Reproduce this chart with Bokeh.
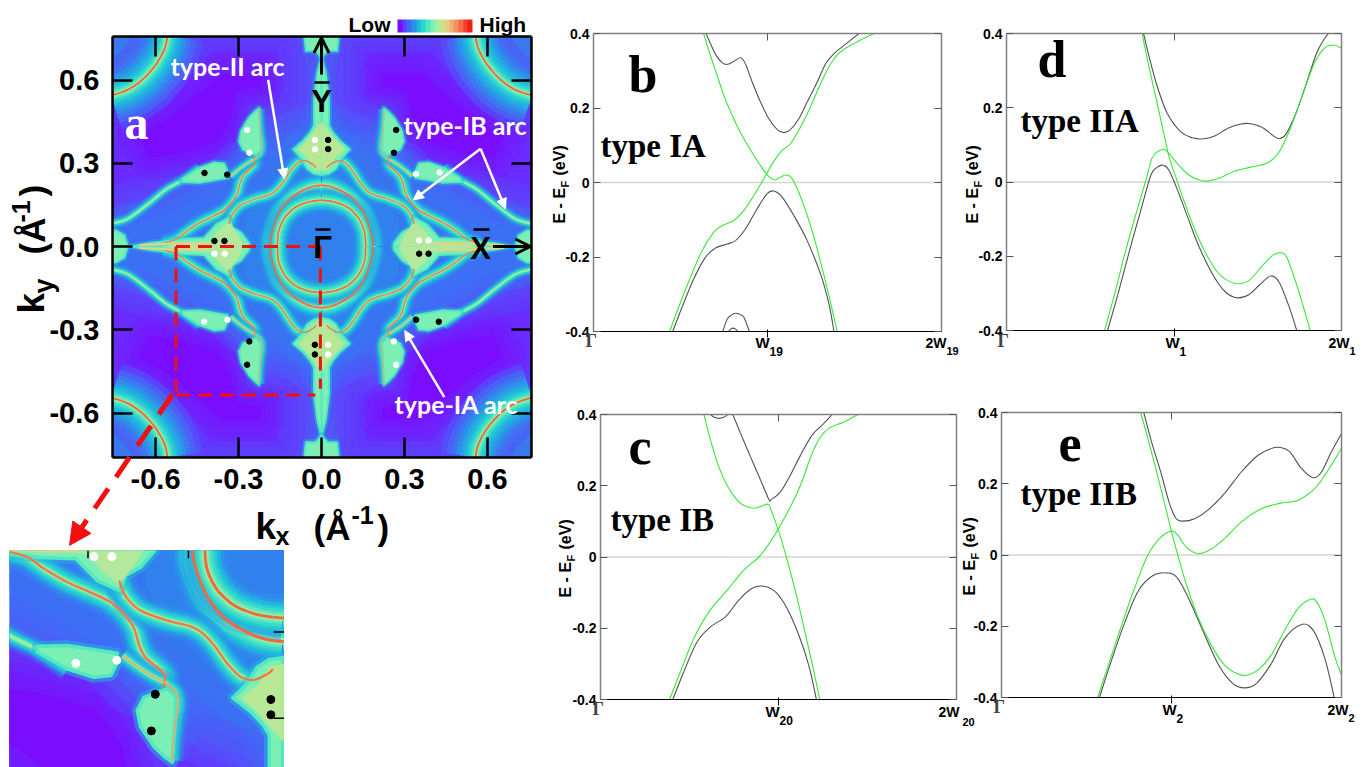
from math import pi
from bokeh.plotting import figure
from bokeh.layouts import row, column
from bokeh.models import (Label, Arrow, NormalHead, OpenHead, FixedTicker, ColorBar, LinearAxis,
                          LinearColorMapper, PrintfTickFormatter)
from bokeh.embed import file_html
from bokeh.resources import INLINE

# ---------- band-structure series (x in units of W, E in eV) ----------
b_up_x = [.647,.672,.704,.739,.768,.802,.845,.873,.912,.960,1.008,1.056,1.094,1.132,1.180,1.228,1.286,1.334,1.382,1.440,1.526]
b_up_y = [.4,.373,.342,.322,.317,.324,.335,.319,.270,.216,.171,.142,.134,.142,.171,.216,.270,.319,.346,.368,.4]
b_lo_x = [.455,.509,.576,.643,.701,.768,.816,.873,.940,.998,1.036,1.084,1.152,1.228,1.305,1.353,1.382]
b_lo_y = [-.4,-.335,-.259,-.201,-.176,-.165,-.156,-.125,-.071,-.030,-.023,-.039,-.089,-.156,-.246,-.326,-.4]
b_g1_x = [.633,.662,.701,.749,.797,.854,.921,.979,1.008,1.040,1.075,1.104,1.136,1.171,1.219,1.267,1.315,1.353,1.401]
b_g1_y = [.4,.355,.301,.234,.180,.126,.073,.032,.016,.007,.014,.020,.014,-.017,-.075,-.147,-.232,-.304,-.4]
b_g2_x = [.438,.489,.557,.624,.691,.739,.806,.864,.921,.979,1.027,1.084,1.132,1.180,1.238,1.305,1.363,1.420,1.516,1.612]
b_g2_y = [-.4,-.335,-.255,-.183,-.134,-.116,-.102,-.075,-.035,.010,.050,.086,.104,.140,.194,.265,.319,.351,.378,.4]
b_a1_x = [.743,.768,.792,.816,.840,.864,.896]
b_a1_y = [-.4,-.367,-.356,-.351,-.354,-.362,-.4]
b_a2_x = [.777,.790,.802,.815,.829]
b_a2_y = [-.4,-.393,-.391,-.393,-.4]

c_t_x = [.618,.637,.665,.693,.715]
c_t_y = [.4,.393,.389,.392,.4]
c_up_x = [.743,.787,.843,.899,.946,.951,.959,1.011,1.067,1.124,1.189,1.255,1.301]
c_up_y = [.4,.347,.281,.216,.161,.159,.161,.183,.230,.286,.342,.375,.4]
c_lo_x = [.406,.468,.543,.618,.702,.777,.852,.918,.983,1.049,1.114,1.170,1.213]
c_lo_y = [-.4,-.322,-.238,-.196,-.168,-.121,-.088,-.082,-.098,-.145,-.219,-.304,-.4]
c_g1_x = [.581,.618,.665,.721,.777,.824,.865,.908,.942,.959,1.002,1.049,1.096,1.142,1.189,1.232]
c_g1_y = [.4,.328,.253,.192,.155,.141,.137,.143,.148,.131,.071,-.009,-.098,-.196,-.299,-.4]
c_g2_x = [.388,.449,.524,.609,.712,.805,.890,.955,1.011,1.067,1.124,1.189,1.236,1.283,1.367,1.446]
c_g2_y = [-.4,-.322,-.229,-.154,-.093,-.037,0,.043,.089,.141,.202,.291,.337,.361,.379,.4]

d_up_x = [.818,.852,.901,.961,1.041,1.110,1.170,1.240,1.319,1.399,1.459,1.528,1.588,1.628,1.668,1.727,1.787,1.847,1.887,1.922]
d_up_y = [.4,.337,.256,.184,.135,.119,.116,.123,.144,.156,.157,.147,.126,.117,.129,.184,.261,.342,.378,.4]
d_lo_x = [.603,.663,.732,.802,.862,.901,.937,.971,1.021,1.081,1.150,1.240,1.309,1.379,1.449,1.518,1.578,1.628,1.688,1.733]
d_lo_y = [-.4,-.306,-.189,-.076,.018,.040,.045,.031,-.022,-.094,-.175,-.256,-.297,-.312,-.303,-.274,-.253,-.270,-.337,-.4]
d_g1_x = [.810,.842,.882,.931,.971,1.011,1.051,1.110,1.180,1.260,1.319,1.379,1.449,1.528,1.588,1.628,1.668,1.717,1.767,1.813]
d_g1_y = [.4,.328,.247,.148,.067,.013,-.040,-.112,-.184,-.243,-.265,-.274,-.265,-.225,-.198,-.191,-.198,-.256,-.328,-.4]
d_g2_x = [.585,.643,.712,.782,.832,.872,.925,.961,1.021,1.091,1.160,1.210,1.280,1.359,1.459,1.558,1.628,1.698,1.767,1.837,1.897,1.956,2.0]
d_g2_y = [-.4,-.306,-.184,-.072,.004,.067,.087,.081,.049,.018,.004,.003,.012,.029,.040,.051,.081,.148,.234,.319,.360,.369,.360]

e_up_x = [.837,.880,.939,.988,1.028,1.067,1.136,1.214,1.312,1.411,1.509,1.587,1.637,1.695,1.764,1.833,1.882,1.941,2.0]
e_up_y = [.4,.322,.229,.145,.102,.095,.102,.126,.173,.233,.280,.299,.302,.290,.243,.217,.233,.290,.341]
e_lo_x = [.576,.644,.723,.802,.880,.959,1.028,1.096,1.175,1.273,1.361,1.430,1.499,1.587,1.666,1.764,1.833,1.902,1.957]
e_lo_y = [-.4,-.300,-.192,-.103,-.061,-.050,-.061,-.117,-.202,-.305,-.361,-.373,-.361,-.305,-.234,-.195,-.211,-.290,-.4]
e_g1_x = [.819,.861,.910,.959,.998,1.037,1.086,1.155,1.234,1.312,1.391,1.450,1.519,1.587,1.666,1.745,1.813,1.853,1.902,1.961,2.0]
e_g1_y = [.4,.327,.238,.145,.070,0,-.080,-.174,-.253,-.309,-.334,-.337,-.319,-.281,-.211,-.150,-.125,-.131,-.183,-.286,-.337]
e_g2_x = [.566,.625,.703,.782,.861,.929,.998,1.037,1.086,1.155,1.224,1.312,1.411,1.528,1.637,1.745,1.843,1.921,2.0]
e_g2_y = [-.4,-.314,-.202,-.094,0,.046,.067,.056,.023,.004,.014,.046,.093,.130,.145,.154,.187,.238,.299]

# ---------- Fermi-arc map: curves and shapes in one quadrant (|kx|, |ky|), 1/Angstrom ----------
corner_arc_x = [.557,.561,.570,.584,.601,.621,.644,.668,.694,.725,.760]
corner_arc_y = [.760,.733,.706,.679,.652,.628,.604,.585,.568,.555,.544]
outer_x = [.186,.185,.181,.174,.165,.154,.135,.113,.086,.058,.029,0]
outer_y = [0,.012,.040,.066,.093,.119,.148,.173,.192,.207,.217,.221]
inner_x = [.160,.159,.158,.154,.145,.133,.117,.099,.072,.044,.020,0]
inner_y = [0,.012,.035,.058,.082,.104,.122,.138,.152,.161,.165,.167]
arc1_x = [.570,.524,.489,.441,.394,.352,.322,.304,.294,.281,.257,.241,.243,.244]
arc1_y = [.012,.027,.054,.085,.108,.131,.161,.192,.230,.257,.280,.299,.318,.326]
arc2_x = [.335,.328,.318,.291,.236,.195,.167,.140,.113,.085,.058,.030,.020]
arc2_y = [.081,.104,.123,.150,.173,.184,.199,.230,.272,.303,.309,.295,.284]
edge_x = [.760,.700,.626,.560,.501,.441]
edge_y = [.082,.100,.154,.207,.240,.284]
wing_line_x = [.328,.291,.257,.243,.219,.214,.219,.224,.226]
wing_line_y = [.253,.284,.307,.314,.337,.364,.402,.448,.494]
xtail_x = [.42,.50,.58,.66]
xtail_y = [.012,.012,.009,.005]

v_wing_x = [.226,.245,.263,.291,.298,.284,.257,.236,.219,.222]
v_wing_y = [.498,.482,.463,.417,.379,.349,.337,.329,.349,.417]
h_wing_x = [.503,.441,.339,.342,.352,.387,.441,.503]
h_wing_y = [.232,.230,.248,.276,.299,.303,.284,.245]
y_lobe_x = [0,.027,.052,.071,.102,.065,.040,.027,.027,.015,0]
y_lobe_y = [.258,.262,.280,.316,.350,.382,.412,.436,.531,.627,.681]
y_top_x = [0,.021,.056,.062,0]
y_top_y = [.681,.705,.705,.760,.760]
x_lobe_x = [.261,.262,.291,.322,.335,.380,.424,.496,.560,.625,.682]
x_lobe_y = [0,.012,.050,.069,.104,.081,.031,.028,.020,.012,0]
x_edge_x = [.700,.713,.744,.760,.760]
x_edge_y = [0,.040,.058,.058,0]
y_core_x = [0,.028,.050,.085,.050,.020,0]
y_core_y = [.272,.280,.320,.350,.385,.425,.450]
x_core_x = [.280,.300,.335,.370,.400,.500,.580]
x_core_y = [0,.040,.090,.060,.020,.010,0]

cheek1_x = [.07,.50,.53,.62,.76,.76,.62,.50,.42,.34,.31,.30,.22,.16,.12,.06,.05]
cheek1_y = [.76,.76,.62,.52,.50,.14,.19,.25,.31,.32,.40,.50,.52,.42,.40,.45,.60]
cheek2_x = [.16,.40,.46,.55,.66,.76,.76,.62,.50,.38,.32,.30,.22,.16]
cheek2_y = [.70,.70,.62,.52,.46,.44,.22,.26,.31,.34,.42,.54,.55,.55]
cheek3_x = [.22,.36,.43,.55,.66,.62,.50,.38,.33,.31,.22]
cheek3_y = [.62,.62,.56,.46,.40,.32,.34,.38,.46,.56,.58]
centre_a_x = [0,.12,.20,.30,.40,.55,.70,.70,0]
centre_a_y = [.45,.40,.32,.30,.18,.10,.06,0,0]
centre_b_x = [0,.10,.20,.28,.28,0]
centre_b_y = [.30,.27,.20,.10,0,0]

black_kx = [-.423,-.341,.024,.024,.270,.262,-.387,-.351,.353,.387,-.261,-.269,-.024,-.024,.342,.424]
black_ky = [.265,.259,.384,.351,.420,.338,.020,.020,-.026,-.026,-.342,-.426,-.354,-.389,-.264,-.271]
white_kx = [-.269,-.261,-.024,-.024,.341,.427,.353,.387,-.387,-.350,-.424,-.340,.024,.024,.262,.270]
white_ky = [.420,.338,.384,.350,.261,.267,.022,.022,-.026,-.026,-.271,-.264,-.354,-.389,-.342,-.426]

tick_vals = [-.6,-.3,0,.3,.6]
e_ticks = [-.4,-.2,0,.2,.4]
bar_colors = ["#7a0cff","#5a40fb","#3a6cf4","#2a90ea","#20b4e0","#28d4d0","#50e8c0","#80f0b0",
              "#a8eea0","#c8e490","#e0d080","#f0b070","#f49060","#f46a48","#f24030","#ee2010"]
glow_colors = ["#4e58f8","#466cf4","#3a7cf0","#2e90ea","#26a4e4","#22b8de","#26ccd4","#3adcc8","#60e8bc","#98eca4"]

SANS, SERIF, LATO = "Liberation Sans", "Liberation Serif", "Lato"
BLACK_BAND, GREEN_BAND = "#505050", "#35e835"
KX_L, KX_R, KY_T, KY_B = -.756, .759, .757, -.760
DROP = .37  # a label's text sits this share of its size below its anchor


def mirror(x, y):
    xs, ys = [], []
    for sx in (1, -1):
        for sy in (1, -1):
            xs.append([sx * v for v in x])
            ys.append([sy * v for v in y])
    return xs, ys


def segs(x, y):
    """Cubic pieces that pass through the values read, one piece between two neighbours."""
    o = ([], [], [], [], [], [], [], [])
    n = len(x)
    for i in range(n - 1):
        a, b = max(i - 1, 0), min(i + 2, n - 1)
        vals = (x[i], y[i], x[i + 1], y[i + 1], x[i] + (x[i + 1] - x[a]) / 6, y[i] + (y[i + 1] - y[a]) / 6,
                x[i + 1] - (x[b] - x[i]) / 6, y[i + 1] - (y[b] - y[i]) / 6)
        for lst, v in zip(o, vals):
            lst.append(v)
    return o


def curve(p, x, y, **kw):
    x0, y0, x1, y1, cx0, cy0, cx1, cy1 = segs(x, y)
    p.bezier(x0=x0, y0=y0, x1=x1, y1=y1, cx0=cx0, cy0=cy0, cx1=cx1, cy1=cy1, **kw)


def poly(p, x, y, color, s, soft=False):
    xs, ys = mirror(x, y)
    if soft:
        for w in (44, 30, 18, 8):
            p.patches(xs, ys, fill_color=None, line_color=color, line_alpha=.22, line_width=w * s, line_join="round")
    p.patches(xs, ys, fill_color=color, line_color=color, line_width=.1)


def stroke(p, curves, layers, s):
    for cx, cy in curves:
        xs, ys = mirror(cx, cy)
        for w, c, al in layers:
            for x, y in zip(xs, ys):
                curve(p, x, y, line_color=c, line_alpha=al, line_width=w * s)


def draw_map(p, s, dot):
    p.quad(left=[KX_L], right=[KX_R], top=[KY_T], bottom=[KY_B], fill_color="#4668f6", line_color=None)
    poly(p, cheek1_x, cheek1_y, "#5a48fc", s, True)
    poly(p, cheek2_x, cheek2_y, "#6a2cfe", s, True)
    poly(p, cheek3_x, cheek3_y, "#7a0cff", s, True)
    poly(p, centre_a_x, centre_a_y, "#3c70f4", s, True)
    poly(p, centre_b_x, centre_b_y, "#3080ee", s, True)
    poly(p, corner_arc_x + [.76], corner_arc_y + [.76], "#3a78ee", s)

    g = glow_colors
    corners = [(corner_arc_x, corner_arc_y)]
    sc = .88 if s == 1 else 1.4
    stroke(p, corners, [(80, g[0], .6), (66, g[1], .7), (54, g[2], .8), (44, g[3], 1), (35, g[4], 1), (27, g[5], 1),
                        (20, g[6], 1), (14, g[7], 1), (9, g[8], 1), (4.5, g[9], 1)], sc)
    rings = [(outer_x, outer_y), (inner_x, inner_y)]
    stroke(p, rings, [(26, g[3], .4), (21, g[4], .6), (17, g[5], .9), (13, g[6], 1), (10, g[7], 1), (6.5, g[8], 1),
                      (3.6, g[9], 1)], s)
    arcs = [(arc1_x, arc1_y), (arc2_x, arc2_y)]
    stroke(p, arcs, [(18, g[3], .4), (14, g[4], .6), (11, g[5], .9), (8.5, g[6], 1), (6, g[7], 1), (4, g[8], 1),
                     (2.6, g[9], 1)], s)
    thin = [(edge_x, edge_y), (wing_line_x, wing_line_y)]
    stroke(p, thin, [(13, g[3], .35), (10, g[4], .5), (7.5, g[5], .8), (5.5, g[6], 1), (3.6, g[7], 1), (2.2, g[9], 1)], s)

    shapes = [(v_wing_x, v_wing_y), (h_wing_x, h_wing_y), (y_lobe_x, y_lobe_y), (y_top_x, y_top_y),
              (x_lobe_x, x_lobe_y), (x_edge_x, x_edge_y)]
    for x, y in shapes:
        xs, ys = mirror(x, y)
        p.patches(xs, ys, fill_color="#7cf0b4", line_color="#22b8de", line_alpha=.5, line_width=6 * s, line_join="round")
        p.patches(xs, ys, fill_color="#7cf0b4", line_color="#54e8c0", line_width=2 * s, line_join="round")
    poly(p, y_core_x, y_core_y, "#b8e896", s)
    poly(p, x_core_x, x_core_y, "#b4e89c", s)

    stroke(p, corners, [(1.8, "#f0603a", 1)], 1 if s == 1 else 1.6)
    stroke(p, rings, [(1.6, "#f0683c", 1)], s)
    stroke(p, arcs, [(1.3, "#f07848", 1)], s)
    stroke(p, [(wing_line_x, wing_line_y)], [(1.0, "#e8a868", 1)], s)
    stroke(p, [(xtail_x, xtail_y)], [(2.0, "#e8d080", 1)], s)

    p.scatter(black_kx, black_ky, size=dot, color="black")
    p.scatter(white_kx, white_ky, size=dot, color="white")


# ---------- panel a ----------
def kx(px):
    return (px - 321) / 276.6


def ky(py):
    return (246 - py) / 277.5


A_W, A_H = 548, 550
a = figure(x_range=(kx(0), kx(A_W)), y_range=(ky(A_H), ky(0)), frame_width=A_W, frame_height=A_H,
           output_backend="svg", toolbar_location=None, min_border_left=0, min_border_right=0,
           min_border_top=0, min_border_bottom=0, frame_align=False)
a.grid.visible = False
a.outline_line_color = None
draw_map(a, 1, 5.5)
# white mat round the map: the figure's drawing area also holds the labels
a.quad(left=[kx(0), KX_R, KX_L, KX_L], right=[KX_L, kx(A_W), KX_R, KX_R],
       top=[ky(0), ky(0), ky(0), KY_B], bottom=[ky(A_H), ky(A_H), KY_T, ky(A_H)], color="white", line_color=None)


def a_axis(ax, labelled):
    ax.ticker = FixedTicker(ticks=tick_vals)
    ax.major_tick_in, ax.major_tick_out = 20, 0
    ax.major_tick_line_width = 2.5
    ax.major_tick_line_color = "black"
    ax.minor_tick_line_color = None
    ax.axis_line_width = 2.5
    ax.axis_line_color = "black"
    ax.major_label_text_font = SANS
    ax.major_label_text_font_style = "bold"
    ax.major_label_text_font_size = "29px"
    ax.major_label_text_color = "black"
    if labelled:
        ax.formatter = PrintfTickFormatter(format="%.1f")
    else:
        ax.major_label_overrides = {v: "" for v in tick_vals}


a_axis(a.xaxis[0], True)
a_axis(a.yaxis[0], True)
a.xaxis[0].fixed_location = KY_B
a.xaxis[0].bounds = (KX_L, KX_R)
a.yaxis[0].fixed_location = KX_L
a.yaxis[0].bounds = (KY_B, KY_T)
a.xaxis[0].major_label_standoff = 12
a.yaxis[0].major_label_standoff = 13
extra = LinearAxis(fixed_location=KX_R, bounds=(KY_B, KY_T))
a_axis(extra, False)
a.add_layout(extra, "right")
extra = LinearAxis(fixed_location=KY_T, bounds=(KX_L, KX_R))
a_axis(extra, False)
a.add_layout(extra, "above")


def a_text(txt, px, py, size, font=SANS, color="black", angle=0.0, align="left", style="bold"):
    if angle:
        px -= DROP * size
    else:
        py -= DROP * size
    a.add_layout(Label(x=kx(px), y=ky(py), text=txt, text_font=font, text_font_style=style,
                       text_font_size=f"{size}px", text_color=color, angle=angle,
                       text_align=align, text_baseline="alphabetic"))


a_text("k", 255, 540, 37)
a_text("x", 275, 545, 25)
a_text("(Å", 313, 540, 35)
a_text("-1", 351, 524, 25)
a_text(")", 377, 540, 35)
a_text("k", 45, 313, 37, angle=pi / 2)
a_text("y", 53, 293, 27, angle=pi / 2)
a_text("(Å", 45, 254, 35, angle=pi / 2)
a_text("-1", 30, 222, 25, angle=pi / 2)
a_text(")", 45, 196, 35, angle=pi / 2)

a_text("Y", 321, 112, 31, align="center")
a_text("Γ", 322, 258, 31, align="center")
a_text("X", 480, 259, 31, align="center")
for x0, x1, yy in [(314, 329, 82), (315, 330, 229), (473, 489, 229)]:
    a.line([kx(x0), kx(x1)], [ky(yy), ky(yy)], color="black", line_width=2.5)

a_text("a", 124, 140, 48, font=SERIF, color="white")
a_text("type-II arc", 170, 75, 25, font=LATO, color="white")
a_text("type-IB arc", 403, 134, 25, font=LATO, color="white")
a_text("type-IA arc", 394, 413, 25, font=LATO, color="white")

a_text("Low", 348, 32, 21)
a_text("High", 479, 32, 21)
mapper = LinearColorMapper(palette=bar_colors, low=0, high=1)
cb = ColorBar(color_mapper=mapper, ticker=FixedTicker(ticks=[]), orientation="horizontal", width=75, height=13,
              location=(397, A_H - 32), padding=0, margin=0, bar_line_color=None,
              major_tick_line_color=None, minor_tick_line_color=None, background_fill_alpha=0, border_line_color=None)
a.add_layout(cb, "center")

for (x0, y0, x1, y1) in [(-.193, .601, -.134, .244), (.575, .352, .332, .168), (.575, .352, .665, .136),
                         (.444, -.543, .301, -.303)]:
    a.add_layout(Arrow(end=NormalHead(size=10, fill_color="white", line_color="white"), x_start=x0, y_start=y0,
                       x_end=x1, y_end=y1, line_color="white", line_width=2.5))
a.add_layout(Arrow(end=OpenHead(size=15, line_color="black", line_width=3), x_start=0, y_start=.62,
                   x_end=0, y_end=.752, line_color="black", line_width=3))
a.add_layout(Arrow(end=OpenHead(size=15, line_color="black", line_width=3), x_start=.62, y_start=0,
                   x_end=.755, y_end=0, line_color="black", line_width=3))

a.line([-.526, -.004], [0, 0], color="#f01010", line_width=3, line_dash="14 8")
a.line([-.526, -.526], [0, -.535], color="#f01010", line_width=3, line_dash="14 8")
a.line([-.526, -.022], [-.535, -.535], color="#f01010", line_width=3, line_dash="14 8")
a.line([-.004, -.004], [0, -.513], color="#f01010", line_width=3, line_dash="14 8")
a.add_layout(Arrow(end=NormalHead(size=22, fill_color="#f01010", line_color="#f01010"),
                   x_start=-.539, y_start=-.533, x_end=-.911, y_end=-1.077,
                   line_color="#f01010", line_width=5, line_dash="24 14"))

# ---------- inset ----------
inset = figure(x_range=(-.56, .004), y_range=(-.510, -.012), frame_width=275, frame_height=217, output_backend="svg",
               toolbar_location=None, min_border_left=0, min_border_right=0, min_border_top=0, min_border_bottom=0,
               margin=(0, 0, 0, 9), frame_align=False)
inset.axis.visible = False
inset.grid.visible = False
inset.outline_line_color = None
draw_map(inset, 1.8, 8)
for x0, y0, x1, y1 in [(-.399, -.012, -.399, -.030), (-.193, -.012, -.193, -.030),
                       (-.018, -.199, .004, -.199), (-.018, -.397, .004, -.397)]:
    inset.line([x0, x1], [y0, y1], color="black", line_width=1.5)


# ---------- band panels ----------
def band(left, right, top, bottom, col_left, col_right, page_top, page_bottom, curves, letter, lx, ly, kind, tx, ty,
         w_sub, w_pos, two_pos, two_sub, gamma_pos, label_x, label_y):
    def X(px):
        return (px - left) / (right - left) * 2

    def Y(py):
        return .4 - (py - top) / (bottom - top) * .8

    p = figure(x_range=(X(col_left), X(col_right)), y_range=(Y(page_bottom), Y(page_top)),
               frame_width=col_right - col_left, frame_height=page_bottom - page_top,
               output_backend="svg", toolbar_location=None, min_border_left=0, min_border_right=0,
               min_border_top=0, min_border_bottom=0, frame_align=False)
    p.grid.visible = False
    p.outline_line_color = None

    def txt(t, px, py, size, font=SANS, color="black", angle=0.0):
        if angle:
            px -= DROP * size
        else:
            py -= DROP * size
        p.add_layout(Label(x=X(px), y=Y(py), text=t, text_font=font, text_font_style="bold",
                           text_font_size=f"{size}px", text_color=color, angle=angle, text_baseline="alphabetic"))

    p.line([0, 2], [0, 0], color="#aaaaaa", line_width=1.5, line_dash="1 1")
    for x, y, color in curves:
        curve(p, x, y, line_color=color, line_width=1.1)

    p.xaxis[0].ticker = FixedTicker(ticks=[1])
    p.xaxis[0].major_label_overrides = {1: ""}
    p.xaxis[0].fixed_location = -.4
    p.xaxis[0].bounds = (0, 2)
    p.yaxis[0].ticker = FixedTicker(ticks=e_ticks)
    p.yaxis[0].fixed_location = 0
    p.yaxis[0].bounds = (-.4, .4)
    right_ax = LinearAxis(ticker=FixedTicker(ticks=e_ticks), major_label_overrides={v: "" for v in e_ticks},
                          fixed_location=2, bounds=(-.4, .4))
    top_ax = LinearAxis(ticker=FixedTicker(ticks=[1]), major_label_overrides={1: ""}, fixed_location=.4, bounds=(0, 2))
    p.add_layout(right_ax, "right")
    p.add_layout(top_ax, "above")
    for ax in [p.xaxis[0], p.yaxis[0], right_ax, top_ax]:
        ax.major_tick_in, ax.major_tick_out = 7, 0
        ax.minor_tick_line_color = None
        ax.major_tick_line_color = "#555555"
        ax.axis_line_color = "#808080"
        ax.axis_line_width = 1.5
        ax.major_label_text_font = SANS
        ax.major_label_text_font_style = "bold"
        ax.major_label_text_font_size = "14px"
        ax.major_label_text_color = "black"
        ax.major_label_standoff = 4
    p.yaxis[0].formatter = PrintfTickFormatter(format="%g")
    p.yaxis[0].major_label_overrides = {0: "0"}

    txt(letter, lx, ly, 52, SERIF)
    txt(kind, tx, ty, 33, SERIF)
    txt("W", w_pos[0], w_pos[1], 15)
    txt(w_sub, w_pos[0] + 14, w_pos[1] + 7, 12)
    txt("2W", two_pos[0], two_pos[1], 14)
    if two_sub:
        txt(w_sub, two_pos[0] + 21, two_pos[1] + 7, 11)
    txt("Γ", gamma_pos[0] - 6, gamma_pos[1], 18, SERIF, "#444444")
    txt("E - E", label_x, label_y, 16, angle=pi / 2)
    txt("F", label_x + 4, label_y - 36, 11, angle=pi / 2)
    txt("(eV)", label_x, label_y - 48, 16, angle=pi / 2)
    return p, txt


K, G = BLACK_BAND, GREEN_BAND
COL2, COL3, COL_END, ROW2, PAGE_END = 548, 961, 1366, 380, 767
pb, _ = band(593, 941, 33, 331, COL2, COL3, 0, ROW2,
             [(b_up_x, b_up_y, K), (b_lo_x, b_lo_y, K), (b_a1_x, b_a1_y, K), (b_a2_x, b_a2_y, K),
              (b_g1_x, b_g1_y, G), (b_g2_x, b_g2_y, G)],
             "b", 628, 93, "type IA", 600, 158, "19", (755, 348), (925, 348), True, (591, 347), 565, 223)
pc, _ = band(600, 956, 414, 699, COL2, COL3, ROW2, PAGE_END,
             [(c_t_x, c_t_y, K), (c_up_x, c_up_y, K), (c_lo_x, c_lo_y, K), (c_g1_x, c_g1_y, G), (c_g2_x, c_g2_y, G)],
             "c", 628, 465, "type IB", 610, 532, "20", (765, 717), (938, 717), False, (598, 715), 571, 597)
pd_, _ = band(1006, 1341, 33, 330, COL3, COL_END, 0, ROW2,
              [(d_up_x, d_up_y, K), (d_lo_x, d_lo_y, K), (d_g1_x, d_g1_y, G), (d_g2_x, d_g2_y, G)],
              "d", 1037, 78, "type IIA", 1020, 133, "1", (1165, 348), (1328, 348), True, (1003, 347), 978, 223)
pe, e_txt = band(1001, 1341, 412, 697, COL3, COL_END, ROW2, PAGE_END,
                 [(e_up_x, e_up_y, K), (e_lo_x, e_lo_y, K), (e_g1_x, e_g1_y, G), (e_g2_x, e_g2_y, G)],
                 "e", 1058, 462, "type IIB", 1020, 506, "2", (1162, 715), (1327, 715), True, (999, 713), 975, 595)
e_txt("20", 962, 726, 11)

page = row(column(a, inset), column(pb, pc), column(pd_, pe))
open("out.html", "w").write(file_html(page, INLINE))
